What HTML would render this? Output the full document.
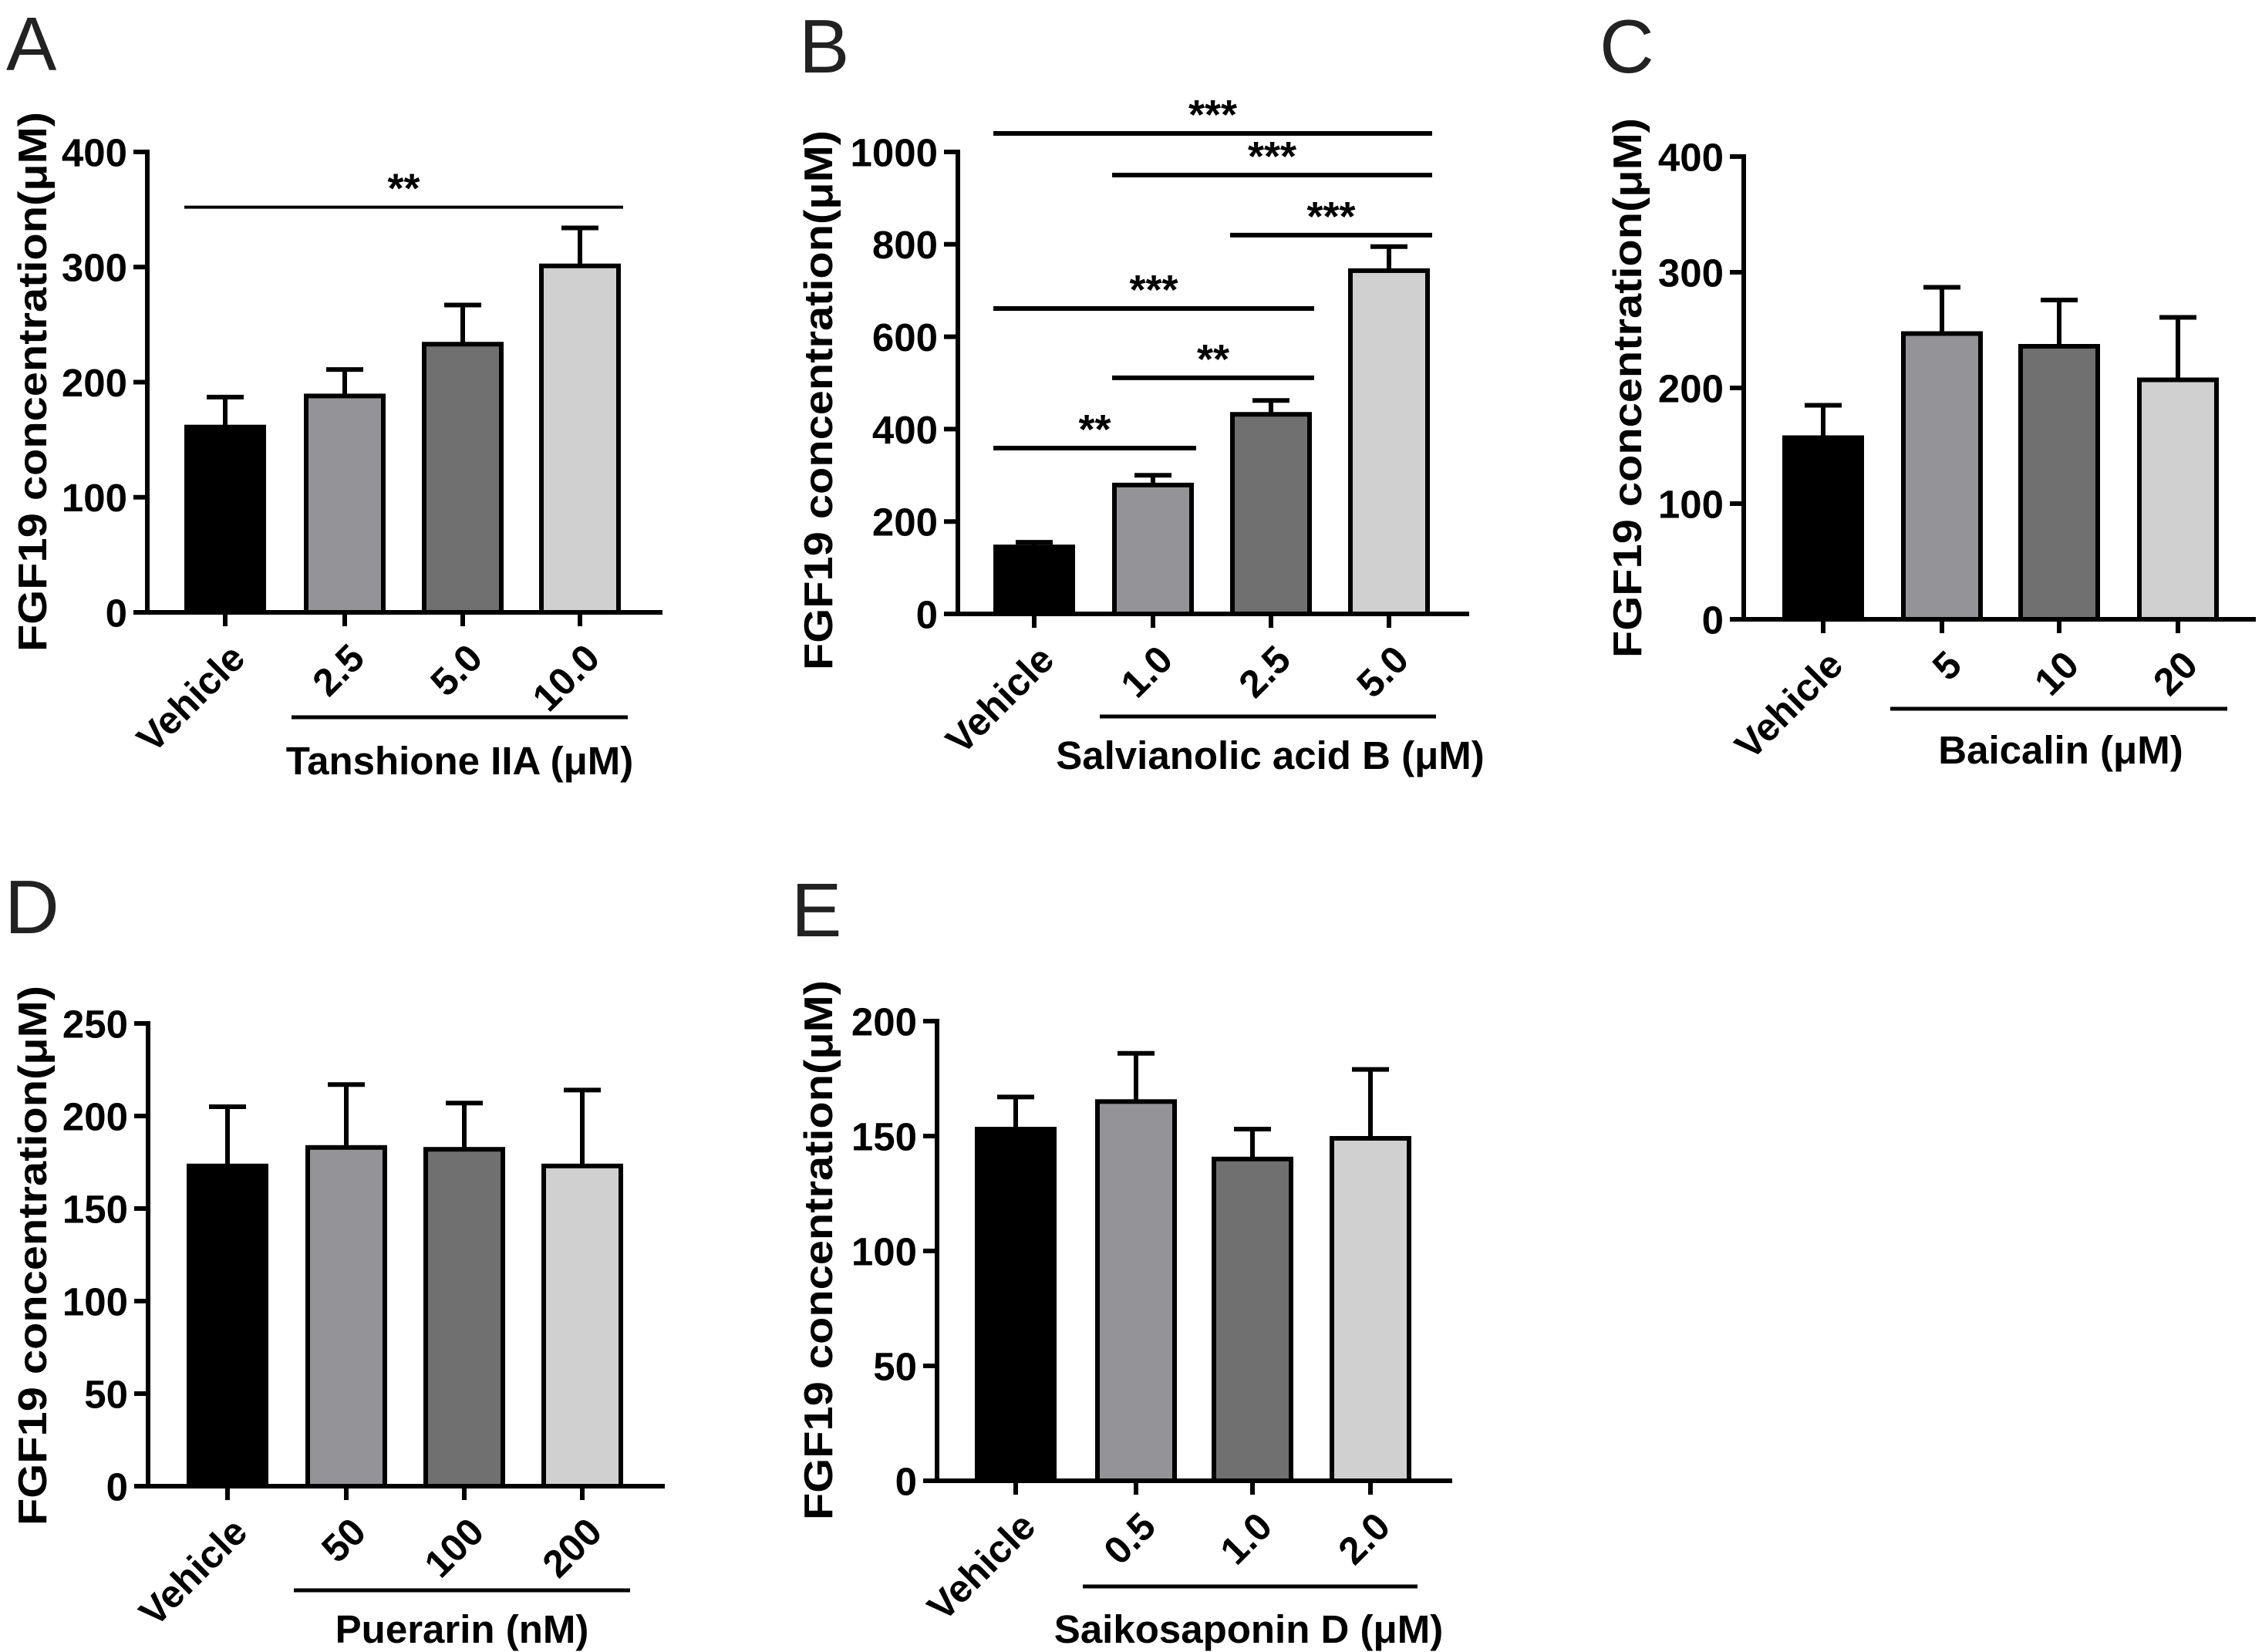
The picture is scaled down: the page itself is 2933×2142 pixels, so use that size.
<!DOCTYPE html>
<html><head><meta charset="utf-8"><style>
html,body{margin:0;padding:0;background:#fff;}
svg{display:block;font-family:"Liberation Sans",Arial,sans-serif;}
</style></head><body>
<svg id="fig" width="2933" height="2142" viewBox="0 0 2933 2142" xmlns="http://www.w3.org/2000/svg"></svg>
<script>
// ---- data ----
const catsA = ["Vehicle","2.5","5.0","10.0"];
const valsA = [161,188,233,301];
const errA  = [187,211,267,334];
const ticksA = [0,100,200,300,400];

const catsB = ["Vehicle","1.0","2.5","5.0"];
const valsB = [145,279,432,743];
const errB  = [155,300,462,795];
const ticksB = [0,200,400,600,800,1000];
const sigFromB = [0,1,2,0,1,0];
const sigToB   = [3,3,3,2,2,1];
const sigValB  = [1040,950,820,661,511,359];
const sigTxtB  = ["***","***","***","***","**","**"];

const catsC = ["Vehicle","5","10","20"];
const valsC = [157,247,236,207];
const errC  = [185,287,276,261];
const ticksC = [0,100,200,300,400];

const catsD = ["Vehicle","50","100","200"];
const valsD = [173,183,182,173];
const errD  = [205,217,207,214];
const ticksD = [0,50,100,150,200,250];

const catsE = ["Vehicle","0.5","1.0","2.0"];
const valsE = [153,165,140,149];
const errE  = [167,186,153,179];
const ticksE = [0,50,100,150,200];

const fills = ["#000000","#939398","#707070","#d0d0d0"];
const NS = "http://www.w3.org/2000/svg";
const svg = document.getElementById("fig");

function mk(tag, attrs, parent){
  const e = document.createElementNS(NS, tag);
  for (const k in attrs) e.setAttribute(k, attrs[k]);
  (parent||svg).appendChild(e);
  return e;
}

function panel(p){
  const g = mk("g", {});
  
  
  const ymax = p.ticks[p.ticks.length-1];
  const y = v => p.y0 - (v/ymax)*(p.y0 - p.yTop);
  const L = mk("text", {x:p.lx, y:p.ly, "font-size":98, fill:"#222"}, g);
  L.textContent = p.letter;
  
  
  const t = mk("text", {x:0, y:0, "font-size":52, "font-weight":"bold", "text-anchor":"middle",
    transform:`translate(${p.tx},${p.ty}) rotate(-90)`, dy:"0.35em", textLength:700, lengthAdjust:"spacingAndGlyphs"}, g);
  t.textContent = "FGF19 concentration(\u03bcM)";
  
  
  p.cats.forEach((c,i)=>{
    const x1 = p.bx[i], w = p.bw;
    const top = y(p.vals[i]);
    const cx = x1 + w/2;
    const eb = mk("line", {x1:cx, x2:cx, y1:top, y2:y(p.err[i]), stroke:"#000","stroke-width":6}, g);
    
    
    const cap = mk("line", {x1:cx-24, x2:cx+24, y1:y(p.err[i]), y2:y(p.err[i]), stroke:"#000","stroke-width":6}, g);
    
    
    const r = mk("rect", {x:x1+3, y:top, width:w-6, height:p.y0-top, fill:fills[i], stroke:"#000","stroke-width":6}, g);
    
    
    const tk = mk("line", {x1:cx, x2:cx, y1:p.y0, y2:p.y0+18, stroke:"#000","stroke-width":6}, g);
    
    
    const lb = mk("text", {x:0, y:0, "font-size":50, "font-weight":"bold", "text-anchor":"end",
      transform:`translate(${cx+16},${p.y0+50}) rotate(-45)`, dy:"0.35em"}, g);
    lb.textContent = c;
    
    
  });
  const ya = mk("line", {x1:p.ax, x2:p.ax, y1:p.yTop-3, y2:p.y0+3, stroke:"#000","stroke-width":6}, g);
  
  
  const xa = mk("line", {x1:p.ax-3, x2:p.xEnd, y1:p.y0, y2:p.y0, stroke:"#000","stroke-width":6}, g);
  
  
  p.ticks.forEach(v=>{
    const l = mk("line", {x1:p.ax-18, x2:p.ax, y1:y(v), y2:y(v), stroke:"#000","stroke-width":6}, g);
    
    
    const tx = mk("text", {x:p.ax-26, y:y(v), dy:"0.36em", "font-size":51, "font-weight":"bold", "text-anchor":"end"}, g);
    tx.textContent = v;
    
    
  });
  const gl = mk("line", {x1:p.gx1, x2:p.gx2, y1:p.gy, y2:p.gy, stroke:"#000","stroke-width":5}, g);
  
  
  const gt = mk("text", {x:p.glx, y:p.gly, dy:"0.35em", "font-size":51, "font-weight":"bold", "text-anchor":"middle"}, g);
  gt.textContent = p.group;
  
  
  if (p.sigFrom){
    p.sigFrom.forEach((f,k)=>{
      const xa1 = p.bx[f], xa2 = p.bx[p.sigTo[k]] + p.bw + 3;
      const yy = y(p.sigVal[k]);
      const s = mk("line", {x1:xa1, x2:xa2, y1:yy, y2:yy, stroke:"#000","stroke-width":p.sigW||6}, g);
      
      
      const st = mk("text", {x:(xa1+xa2)/2, y:yy-6, "font-size":54, "font-weight":"bold", "text-anchor":"middle"}, g);
      st.textContent = p.sigTxt[k];
      
      
    });
  }
}

panel({letter:"A", lx:8, ly:91, tx:42, ty:495, cats:catsA, vals:valsA, err:errA, ticks:ticksA,
  ax:191, y0:794, yTop:197, xEnd:859, bx:[239,394,547,699], bw:106,
  gx1:378, gx2:814, gy:930, glx:596, gly:986, group:"Tanshione IIA (\u03bcM)",
  sigFrom:[0], sigTo:[3], sigVal:[352], sigTxt:["**"], sigW:4});
panel({letter:"B", lx:1036, ly:94, tx:1061, ty:519, cats:catsB, vals:valsB, err:errB, ticks:ticksB,
  ax:1242, y0:796, yTop:197, xEnd:1905, bx:[1288,1442,1595,1748], bw:106,
  gx1:1426, gx2:1862, gy:929, glx:1647, gly:979, group:"Salvianolic acid B (\u03bcM)",
  sigFrom:sigFromB, sigTo:sigToB, sigVal:sigValB, sigTxt:sigTxtB});
panel({letter:"C", lx:2074, ly:94, tx:2110, ty:503, cats:catsC, vals:valsC, err:errC, ticks:ticksC,
  ax:2261, y0:803, yTop:203, xEnd:2925, bx:[2311,2465,2617,2771], bw:106,
  gx1:2451, gx2:2888, gy:919, glx:2672, gly:972, group:"Baicalin (\u03bcM)"});
panel({letter:"D", lx:6, ly:1210, tx:42, ty:1628, cats:catsD, vals:valsD, err:errD, ticks:ticksD,
  ax:192, y0:1927, yTop:1327, xEnd:862, bx:[242,396,549,702], bw:106,
  gx1:381, gx2:817, gy:2062, glx:599, gly:2112, group:"Puerarin (nM)"});
panel({letter:"E", lx:1026, ly:1214, tx:1061, ty:1621, cats:catsE, vals:valsE, err:errE, ticks:ticksE,
  ax:1215, y0:1920, yTop:1324, xEnd:1883, bx:[1264,1420,1571,1724], bw:106,
  gx1:1404, gx2:1838, gy:2057, glx:1619, gly:2112, group:"Saikosaponin D (\u03bcM)"});
</script>
</body></html>
